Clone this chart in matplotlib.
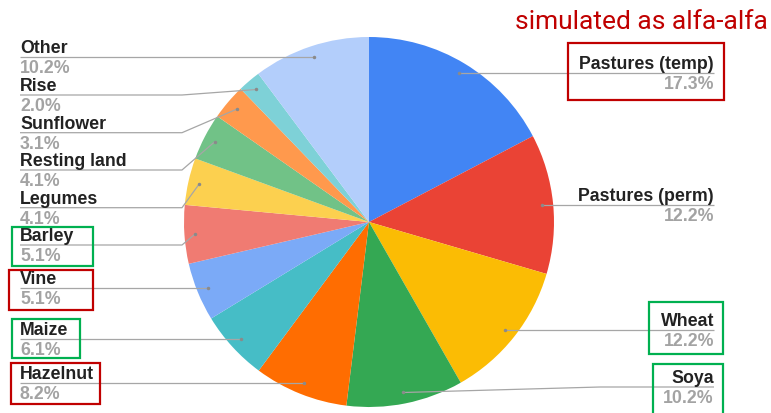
import numpy as np
import matplotlib
matplotlib.use("Agg")
import matplotlib.pyplot as plt
from matplotlib.patches import Rectangle

# crop shares, clockwise from 12 o'clock
labels = ['Pastures (temp)', 'Pastures (perm)', 'Wheat', 'Soya', 'Hazelnut', 'Maize',
          'Vine', 'Barley', 'Legumes', 'Resting land', 'Sunflower', 'Rise', 'Other']
shares = [17.3, 12.2, 12.2, 10.2, 8.2, 6.1, 5.1, 5.1, 4.1, 4.1, 3.1, 2.0, 10.2]
colors = ['#4285F4', '#EA4335', '#FBBC04', '#34A853', '#FF6D01', '#46BDC6',
          '#7BAAF7', '#F07B72', '#FCD04F', '#71C287', '#FF994D', '#7ED1D7', '#B3CEFB']
note = 'simulated as alfa-alfa'

# which labels got highlighted on the slide
red_boxed = ['Pastures (temp)', 'Vine', 'Hazelnut']
green_boxed = ['Wheat', 'Soya', 'Barley', 'Maize']

W, H = 771, 413
fig = plt.figure(figsize=(W / 100, H / 100), dpi=100)
ax = fig.add_axes([0, 0, 1, 1])

def Y(y):
    # pixel row (from top) -> data y (from bottom)
    return H - y

cx, cy, R = 369, 222, 185
wedges, _ = ax.pie(shares, colors=colors, startangle=90, counterclock=False,
                   center=(cx, Y(cy)), radius=R, wedgeprops=dict(linewidth=0))
ax.set_xlim(0, W)
ax.set_ylim(0, H)
ax.set_aspect('equal')
ax.axis('off')

# label rows (y of leader line in px) and side
line_y = [72, 205, 330, 387, 384, 339, 287.5, 245, 207.7, 170, 132.7, 95, 57]
right_side = [True, True, True, True] + [False] * 9

name_kw = dict(family='Liberation Sans', fontweight='bold', fontsize=12.8, color='#222222')
pct_kw = dict(family='Liberation Sans', fontweight='bold', fontsize=12.8, color='#a3a3a3')
line_col = '#a6a6a6'

for w, lab, val, L, right in zip(wedges, labels, shares, line_y, right_side):
    mid = np.deg2rad((w.theta1 + w.theta2) / 2)
    axx = cx + 0.94 * R * np.cos(mid)
    ayy = Y(cy) + 0.94 * R * np.sin(mid)
    if abs(ayy - Y(L)) < 3:
        L = H - ayy
    if right:
        x0, elbow = 714, 600
        pts_x = [x0, max(elbow, axx), axx]
        ha = 'right'
    else:
        x0, elbow = 20, 182
        pts_x = [x0, min(elbow, axx), axx]
        ha = 'left'
    pts_y = [Y(L), Y(L), ayy]
    ax.plot(pts_x, pts_y, color=line_col, lw=0.9, solid_capstyle='butt', zorder=3)
    ax.plot([axx], [ayy], 'o', ms=2.5, color='#8a8a8a', mec='none', zorder=4)
    ax.text(x0, Y(L - 4), lab, ha=ha, va='baseline', zorder=5, **name_kw)
    ax.text(x0, Y(L + 16), f'{val:.1f}%', ha=ha, va='baseline', zorder=5, **pct_kw)

# highlight boxes (px: left, top, right, bottom)
boxes = {
    'Pastures (temp)': (568, 43, 724, 100),
    'Wheat': (649, 302, 723, 354),
    'Soya': (653, 364, 723, 420),
    'Barley': (12, 227, 93, 266),
    'Vine': (9, 270, 93, 310),
    'Maize': (12, 319, 80, 358),
    'Hazelnut': (11, 363, 100, 404),
}
for lab, (l, t, r, b) in boxes.items():
    col = '#C00000' if lab in red_boxed else '#00B050'
    ax.add_patch(Rectangle((l, Y(b)), r - l, b - t, fill=False, ec=col, lw=1.6,
                           zorder=6, clip_on=False))

ax.text(768, Y(29), note, ha='right', va='baseline', family='Roboto',
        fontsize=19, color='#C00000')

fig.savefig('out.png', dpi=100)
